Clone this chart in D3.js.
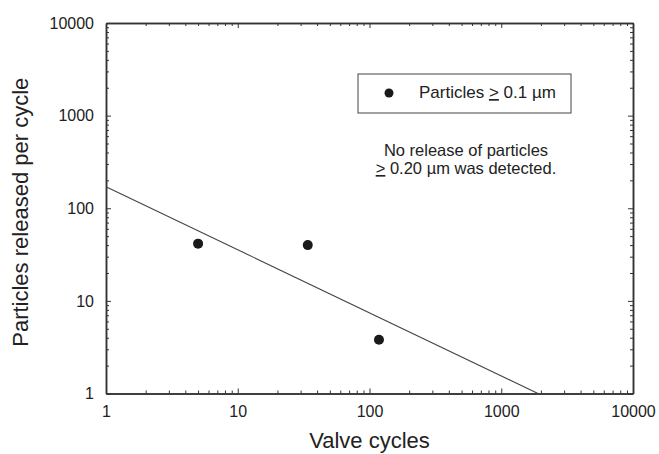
<!DOCTYPE html>
<html>
<head>
<meta charset="utf-8">
<script src="https://cdn.jsdelivr.net/npm/d3@7"></script>
<style>
  body { margin: 0; background: #fff; }
  svg text { font-family: Arial, "Liberation Sans", sans-serif; fill: #222; }
</style>
</head>
<body>
<div id="chart"></div>
<script>
// data
const cycles = [5, 34, 118];
const particles = [41.5, 40, 3.8];
const fitCycles = [1, 1900];
const fitParticles = [171, 1];
const xTicks = [1, 10, 100, 1000, 10000];
const yTicks = [1, 10, 100, 1000, 10000];

const w = 659;
const h = 454;
const margin = { top: 23, right: 26, bottom: 60.5, left: 106 };

const svg = d3.select("#chart")
  .append("svg")
  .attr("width", w)
  .attr("height", h)

const x = d3.scaleLog().domain([1, 10000]).range([margin.left, w - margin.right]);
const y = d3.scaleLog().domain([1, 10000]).range([h - margin.bottom, margin.top]);

// minor ticks 2..9 in each decade
function minors(ticks) {
  let out = [];
  for (let i = 0; i < ticks.length - 1; i++) {
    for (let k = 2; k <= 9; k++) out.push(ticks[i] * k);
  }
  return out;
}

const axisColor = "#333";

function drawAxis(axisFn, scale, transform, major, labels) {
  let gMinor = svg.append("g")
    .attr("transform", transform)
    .call(axisFn(scale).tickValues(minors(major)).tickSizeInner(-3).tickSizeOuter(0).tickFormat(""));
  let gMajor = svg.append("g")
    .attr("transform", transform)
    .call(axisFn(scale).tickValues(major).tickSizeInner(-5).tickSizeOuter(0)
      .tickPadding(labels ? 12 : 0)
      .tickFormat(labels ? d3.format("d") : ""));
  [gMinor, gMajor].forEach(g => {
    g.selectAll("line").attr("stroke", axisColor).attr("stroke-width", 1);
    g.select(".domain").attr("stroke", axisColor).attr("stroke-width", 1.5);
  });
  gMajor.selectAll("text").attr("font-size", 16).attr("fill", "#222");
  return gMajor;
}

drawAxis(d3.axisBottom, x, `translate(0,${h - margin.bottom})`, xTicks, true);
drawAxis(d3.axisTop, x, `translate(0,${margin.top})`, xTicks, false);
drawAxis(d3.axisLeft, y, `translate(${margin.left},0)`, yTicks, true);
drawAxis(d3.axisRight, y, `translate(${w - margin.right},0)`, yTicks, false);

// fitted power-law line
svg.append("line")
  .attr("x1", x(fitCycles[0]))
  .attr("y1", y(fitParticles[0]))
  .attr("x2", x(fitCycles[1]))
  .attr("y2", y(fitParticles[1]))
  .attr("stroke", "#444")
  .attr("stroke-width", 1.1)

// data points
svg.selectAll("circle.pt")
  .data(cycles)
  .enter()
  .append("circle")
  .attr("class", "pt")
  .attr("cx", d => x(d))
  .attr("cy", (d, i) => y(particles[i]))
  .attr("r", 5)
  .attr("fill", "#1a1a1a")

// legend box
svg.append("rect")
  .attr("x", 358)
  .attr("y", 74)
  .attr("width", 213)
  .attr("height", 39)
  .attr("fill", "none")
  .attr("stroke", "#444")
  .attr("stroke-width", 1)

svg.append("circle")
  .attr("cx", 389)
  .attr("cy", 93)
  .attr("r", 4.5)
  .attr("fill", "#1a1a1a")

const legText = svg.append("text")
  .attr("x", 419)
  .attr("y", 98)
  .attr("font-size", 17)
legText.append("tspan").text("Particles ");
legText.append("tspan").attr("text-decoration", "underline").text(">");
legText.append("tspan").text(" 0.1 µm");

// annotation, two separate lines
svg.append("text")
  .attr("x", 466)
  .attr("y", 156)
  .attr("text-anchor", "middle")
  .attr("font-size", 16.5)
  .text("No release of particles")

const note2 = svg.append("text")
  .attr("x", 466)
  .attr("y", 174)
  .attr("text-anchor", "middle")
  .attr("font-size", 16.5)
note2.append("tspan").attr("text-decoration", "underline").text(">");
note2.append("tspan").text(" 0.20 µm was detected.");

// axis titles
svg.append("text")
  .attr("x", (margin.left + w - margin.right) / 2)
  .attr("y", 448)
  .attr("text-anchor", "middle")
  .attr("font-size", 22)
  .text("Valve cycles")

svg.append("text")
  .attr("transform", `translate(28,${(margin.top + h - margin.bottom) / 2 + 4}) rotate(-90)`)
  .attr("text-anchor", "middle")
  .attr("font-size", 22)
  .text("Particles released per cycle")
</script>
</body>
</html>
